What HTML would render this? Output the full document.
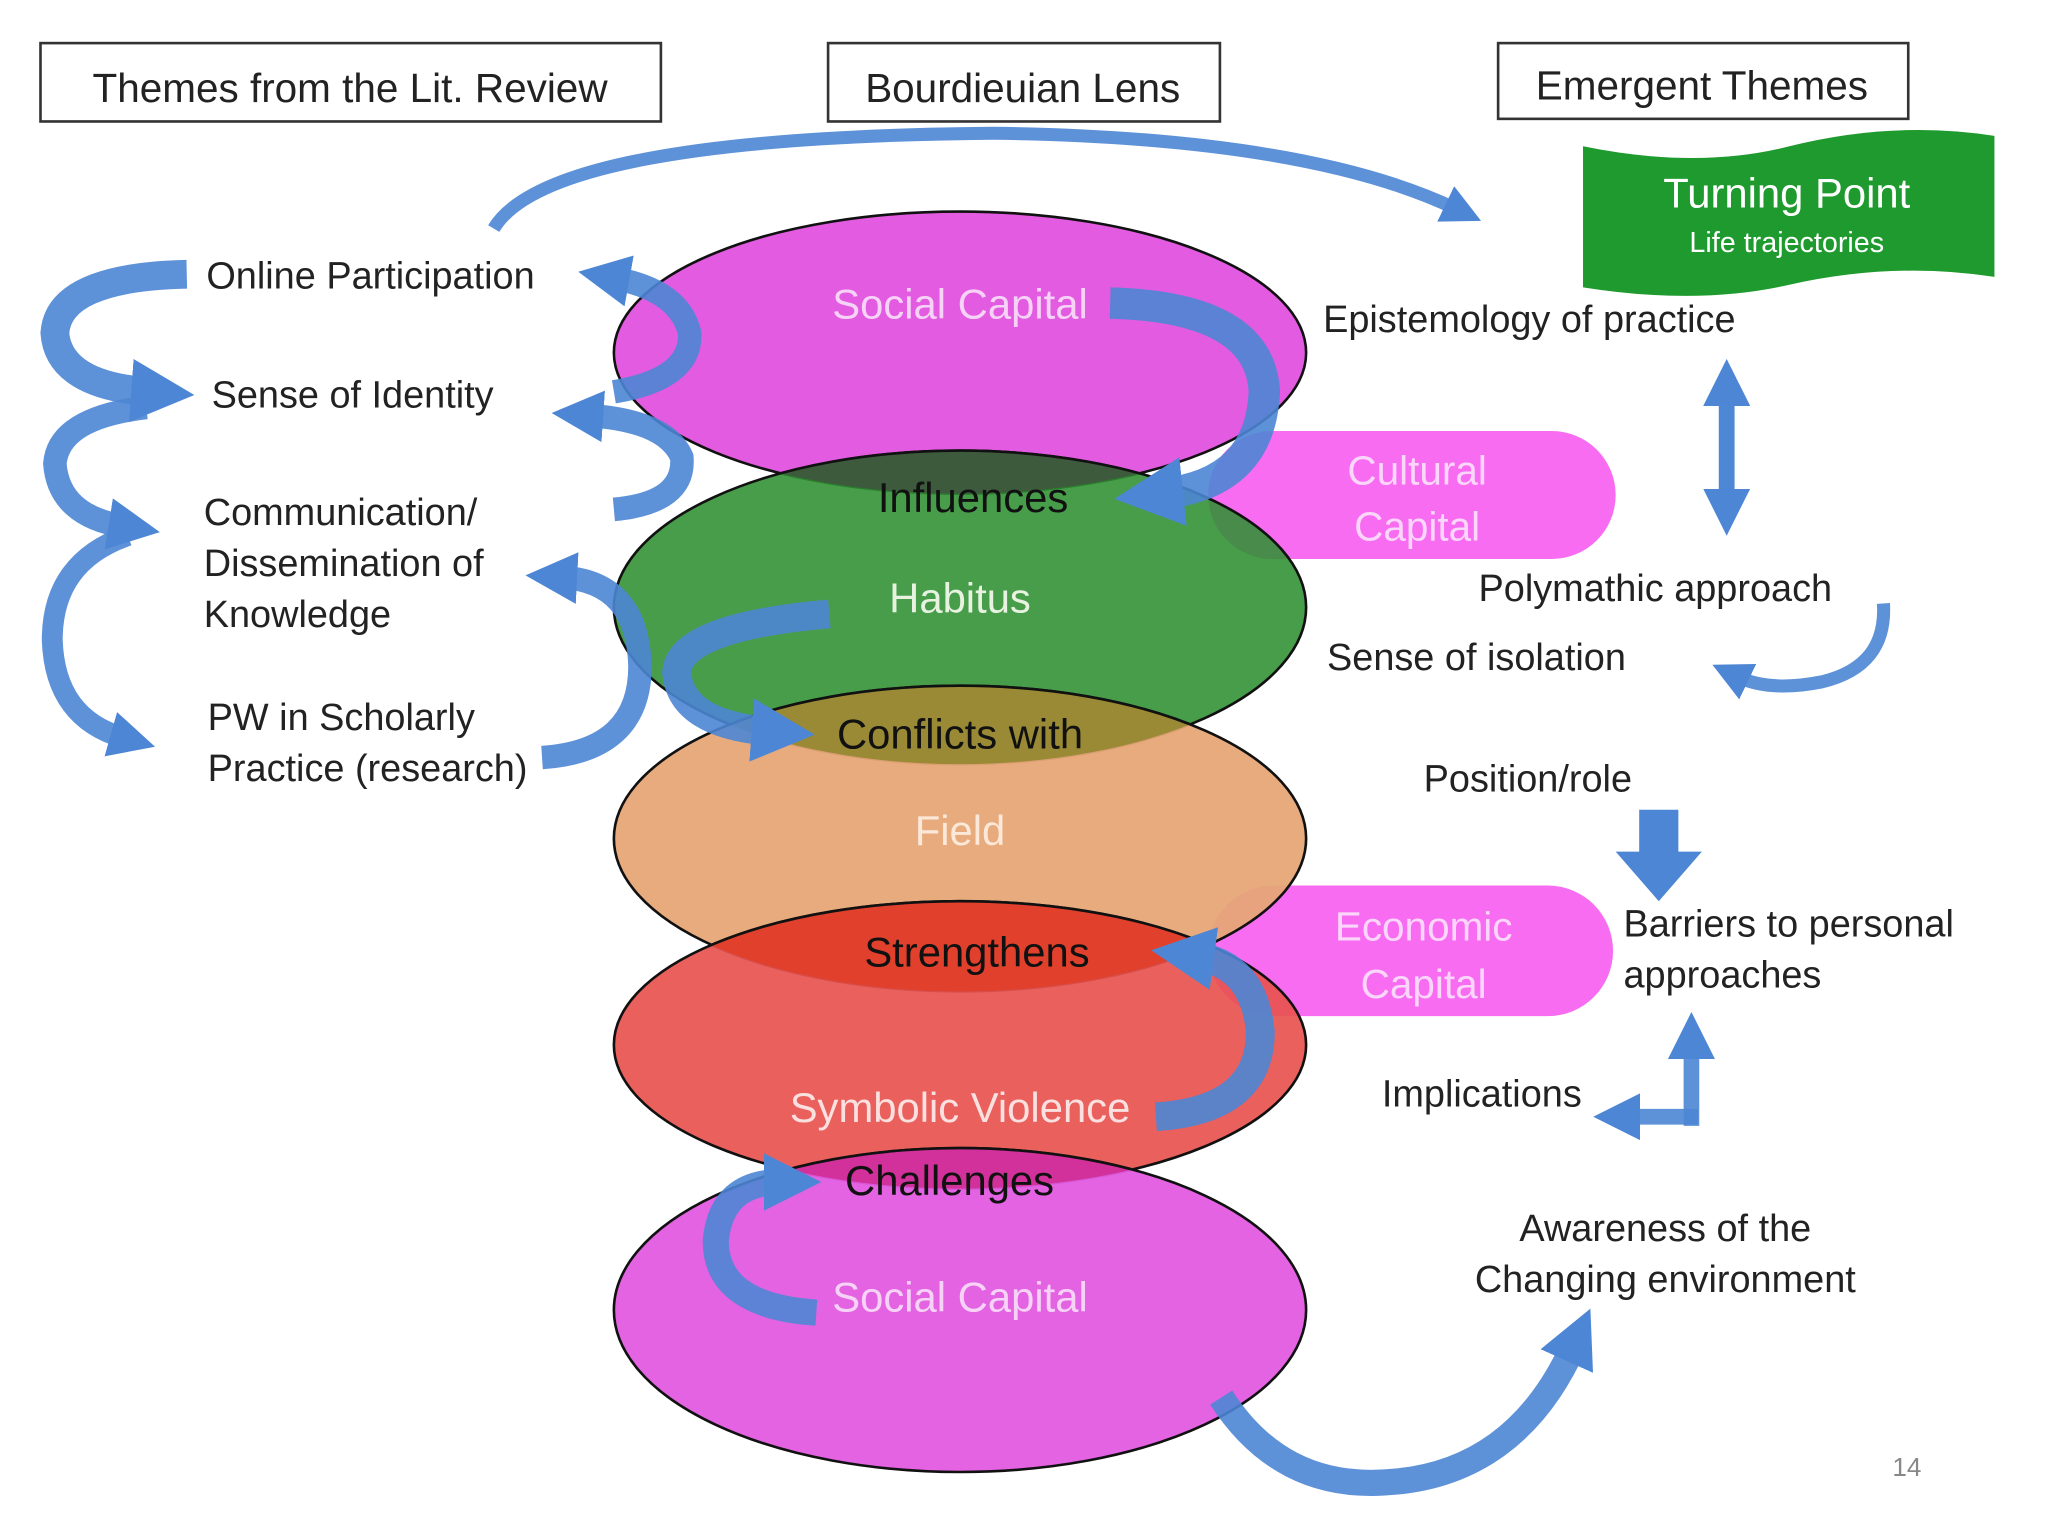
<!DOCTYPE html>
<html><head><meta charset="utf-8"><style>
html,body{margin:0;padding:0;background:#fff;width:2048px;height:1536px;overflow:hidden}
svg{display:block}
text{font-family:"Liberation Sans",sans-serif}
</style></head><body>
<svg width="2048" height="1536" viewBox="0 0 1568 1176" xmlns="http://www.w3.org/2000/svg">
<defs>
<marker id="ah" viewBox="0 0 10 10" refX="3" refY="5" markerWidth="2.2" markerHeight="2.4" orient="auto" markerUnits="strokeWidth">
<path d="M0,0 L10,5 L0,10 z" fill="#4d86d4"/></marker>
<marker id="ah2" viewBox="0 0 10 10" refX="3" refY="5" markerWidth="3" markerHeight="3" orient="auto" markerUnits="strokeWidth">
<path d="M0,0 L10,5 L0,10 z" fill="#4d86d4"/></marker>
</defs>
<rect width="1568" height="1176" fill="#fff"/>
<g fill="none" stroke="#333" stroke-width="2">
<rect x="31" y="33" width="475" height="60"/>
<rect x="634" y="33" width="300" height="60"/>
<rect x="1147" y="33" width="314" height="58"/>
</g>
<g font-size="31" fill="#222">
<text x="268" y="78" text-anchor="middle">Themes from the Lit. Review</text>
<text x="783" y="78" text-anchor="middle">Bourdieuian Lens</text>
<text x="1303" y="76" text-anchor="middle">Emergent Themes</text>
</g>
<path d="M1212,112 Q1300,130 1370,112 Q1450,92 1527,104 L1527,212 Q1450,200 1370,218 Q1300,234 1212,220 Z" fill="#1f9a2e"/>
<text x="1368" y="159" font-size="32" fill="#fff" text-anchor="middle">Turning Point</text>
<text x="1368" y="193" font-size="22" fill="#fff" text-anchor="middle">Life trajectories</text>
<rect x="925" y="330" width="312" height="98" rx="49" fill="#f86cf2"/>
<rect x="925" y="678" width="310" height="100" rx="50" fill="#f86cf2"/>
<g font-size="31" fill="#fbd6fb" text-anchor="middle">
<text x="1085" y="371">Cultural</text><text x="1085" y="414">Capital</text>
<text x="1090" y="720">Economic</text><text x="1090" y="764">Capital</text>
</g>
<g stroke="#111" stroke-width="2">
<ellipse cx="735" cy="270" rx="265" ry="108" fill="#e25be0"/>
<ellipse cx="735" cy="465" rx="265" ry="120" fill="#2f8f32" fill-opacity="0.88"/>
<ellipse cx="735" cy="642" rx="265" ry="117" fill="#e6a777" fill-opacity="0.95"/>
<ellipse cx="735" cy="800" rx="265" ry="110" fill="#e8534f" fill-opacity="0.92"/>
<ellipse cx="735" cy="1003" rx="265" ry="124" fill="#e25be0" fill-opacity="0.95"/>
</g>
<clipPath id="c1"><ellipse cx="735" cy="270" rx="265" ry="108"/></clipPath>
<ellipse cx="735" cy="465" rx="265" ry="120" fill="#3d5a3d" clip-path="url(#c1)" stroke="#111" stroke-width="2"/>
<clipPath id="c2"><ellipse cx="735" cy="465" rx="265" ry="120"/></clipPath>
<ellipse cx="735" cy="642" rx="265" ry="117" fill="#9a8a35" clip-path="url(#c2)" stroke="#111" stroke-width="2"/>
<clipPath id="c3"><ellipse cx="735" cy="642" rx="265" ry="117"/></clipPath>
<ellipse cx="735" cy="800" rx="265" ry="110" fill="#e0402c" clip-path="url(#c3)" stroke="#111" stroke-width="2"/>
<clipPath id="c4"><ellipse cx="735" cy="800" rx="265" ry="110"/></clipPath>
<ellipse cx="735" cy="1003" rx="265" ry="124" fill="#d2309a" clip-path="url(#c4)" stroke="#111" stroke-width="2"/>
<g font-size="32" text-anchor="middle">
<text x="735" y="244" fill="#f7d2f7">Social Capital</text>
<text x="735" y="469" fill="#e8f2e0">Habitus</text>
<text x="735" y="647" fill="#fbe8d8">Field</text>
<text x="735" y="859" fill="#fbe0e0">Symbolic Violence</text>
<text x="735" y="1004" fill="#f7d2f7">Social Capital</text>
<text x="745" y="392" fill="#111">Influences</text>
<text x="735" y="573" fill="#111">Conflicts with</text>
<text x="748" y="740" fill="#111">Strengthens</text>
<text x="727" y="915" fill="#111">Challenges</text>
</g>
<g font-size="29" fill="#222">
<text x="158" y="221">Online Participation</text>
<text x="162" y="312">Sense of Identity</text>
<text x="156" y="402">Communication/</text>
<text x="156" y="441">Dissemination of</text>
<text x="156" y="480">Knowledge</text>
<text x="159" y="559">PW in Scholarly</text>
<text x="159" y="598">Practice (research)</text>
</g>
<g font-size="29" fill="#222">
<text x="1013" y="254">Epistemology of practice</text>
<text x="1132" y="460">Polymathic approach</text>
<text x="1016" y="513">Sense of isolation</text>
<text x="1090" y="606">Position/role</text>
<text x="1243" y="717">Barriers to personal</text>
<text x="1243" y="756">approaches</text>
<text x="1058" y="847">Implications</text>
<text x="1275" y="950" text-anchor="middle">Awareness of the</text>
<text x="1275" y="989" text-anchor="middle">Changing environment</text>
</g>
<text x="1460" y="1130" font-size="20" fill="#888" text-anchor="middle">14</text>
<g fill="none" stroke="#4d86d4" stroke-opacity="0.9">
<path d="M378,175 Q420,105 760,102 Q1000,105 1115,160" stroke-width="10" marker-end="url(#ah2)"/>
<path d="M143,210 Q45,212 42,255 Q45,295 115,300" stroke-width="22" marker-end="url(#ah)"/>
<path d="M112,312 Q45,320 42,355 Q45,395 95,403" stroke-width="18" marker-end="url(#ah)"/>
<path d="M98,410 Q40,430 40,490 Q42,550 95,565" stroke-width="16" marker-end="url(#ah)"/>
<path d="M470,300 Q530,290 528,255 Q520,222 470,213" stroke-width="18" marker-end="url(#ah)"/>
<path d="M470,390 Q525,385 522,350 Q510,322 450,318" stroke-width="18" marker-end="url(#ah)"/>
<path d="M415,580 Q490,575 490,510 Q488,445 430,442" stroke-width="18" marker-end="url(#ah)"/>
<path d="M850,232 Q965,235 968,300 Q965,370 890,378" stroke-width="24" marker-end="url(#ah)"/>
<path d="M635,470 Q520,480 518,515 Q522,555 590,560" stroke-width="22" marker-end="url(#ah)"/>
<path d="M885,855 Q965,850 965,790 Q960,738 915,732" stroke-width="22" marker-end="url(#ah)"/>
<path d="M625,1005 Q548,1000 548,950 Q552,905 598,905" stroke-width="20" marker-end="url(#ah)"/>
<path d="M935,1070 Q980,1140 1060,1135 Q1160,1130 1205,1030" stroke-width="20" marker-end="url(#ah)"/>
<path d="M1322,305 L1322,385" stroke-width="12" marker-end="url(#ah2)"/>
<path d="M1322,385 L1322,300" stroke-width="12" marker-end="url(#ah2)"/>
<path d="M1442,462 Q1445,510 1395,522 Q1355,530 1330,518" stroke-width="10" marker-end="url(#ah2)"/>
<path d="M1295,862 L1295,800" stroke-width="12" marker-end="url(#ah2)"/>
<path d="M1300,855 L1245,855" stroke-width="12" marker-end="url(#ah2)"/>
</g>
<path d="M1255,620 L1285,620 L1285,652 L1303,652 L1270,690 L1237,652 L1255,652 Z" fill="#4d86d4"/>
</svg>
</body></html>
